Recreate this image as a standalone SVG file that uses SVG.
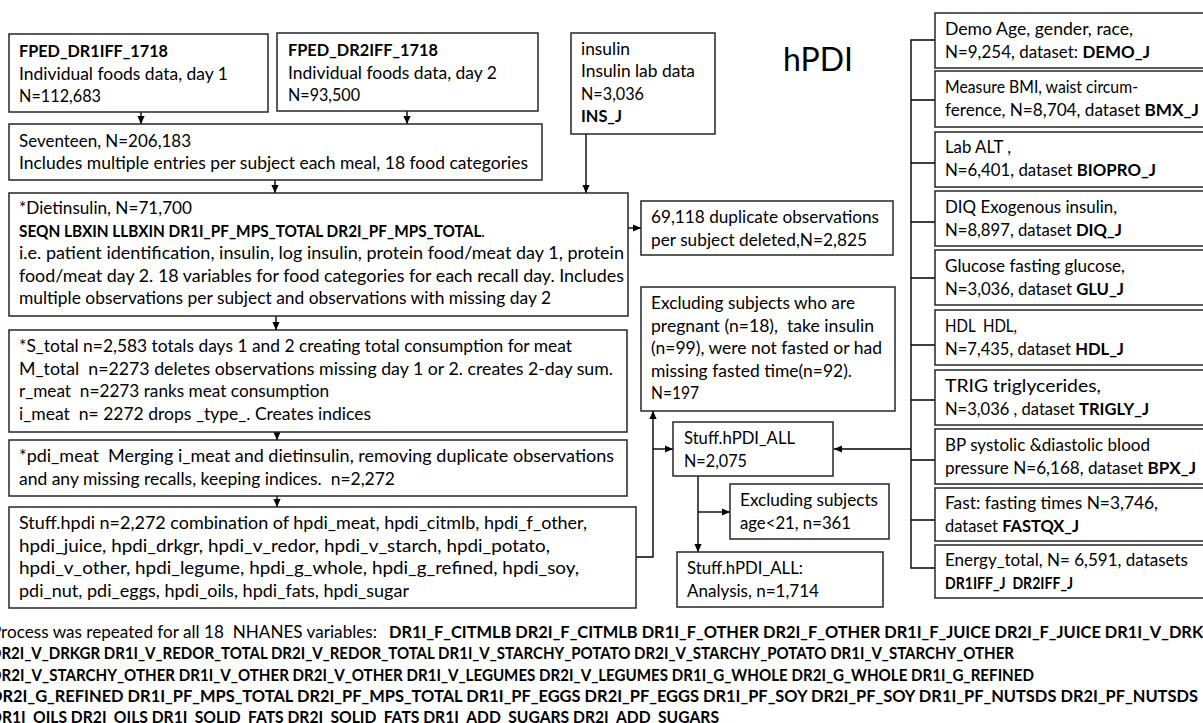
<svg xmlns="http://www.w3.org/2000/svg" width="1203" height="723" viewBox="0 0 1203 723">
<style>
text{font-family:Lato,"Liberation Sans",sans-serif;font-size:17.5px;fill:#000;white-space:pre}
.b{font-weight:bold}
.t{font-size:32px}
.box{fill:#fff;stroke:#262626;stroke-width:1.5}
.c{fill:none;stroke:#000;stroke-width:1.4}
</style>
<defs>
<marker id="a" viewBox="0 0 10 10" refX="10" refY="5" markerWidth="8" markerHeight="8" orient="auto" markerUnits="userSpaceOnUse"><path d="M0,0.5L10,5L0,9.5z" fill="#000"/></marker>
</defs>
<g id="connectors">
<path class="c" d="M141,112V124" marker-end="url(#a)"/>
<path class="c" d="M407,111V124" marker-end="url(#a)"/>
<path class="c" d="M275,180V193" marker-end="url(#a)"/>
<path class="c" d="M586,134V193" marker-end="url(#a)"/>
<path class="c" d="M628,228H641" marker-end="url(#a)"/>
<path class="c" d="M276,316V330" marker-end="url(#a)"/>
<path class="c" d="M277,432V440" marker-end="url(#a)"/>
<path class="c" d="M277,496V507" marker-end="url(#a)"/>
<path class="c" d="M636,557H653V411" marker-end="url(#a)"/>
<path class="c" d="M653,449H673" marker-end="url(#a)"/>
<path class="c" d="M698,476V552" marker-end="url(#a)"/>
<path class="c" d="M698,512H730" marker-end="url(#a)"/>
<path class="c" d="M935,40H911V568H935M911,100H935M911,163H935M911,222H935M911,278H935M911,345H935M911,400H935M911,460H935M911,520H935"/>
<path class="c" d="M911,449H834" marker-end="url(#a)"/>
</g>
<g id="fped1"><rect class="box" x="9" y="34" width="259" height="78"/>
<text class="b" x="19" y="57" textLength="149" lengthAdjust="spacingAndGlyphs">FPED_DR1IFF_1718</text>
<text x="19" y="80" textLength="209" lengthAdjust="spacingAndGlyphs">Individual foods data, day 1</text>
<text x="19" y="102" textLength="82" lengthAdjust="spacingAndGlyphs">N=112,683</text></g>
<g id="fped2"><rect class="box" x="277" y="33" width="261" height="78"/>
<text class="b" x="288" y="56" textLength="150" lengthAdjust="spacingAndGlyphs">FPED_DR2IFF_1718</text>
<text x="288" y="79" textLength="209" lengthAdjust="spacingAndGlyphs">Individual foods data, day 2</text>
<text x="288" y="101" textLength="72" lengthAdjust="spacingAndGlyphs">N=93,500</text></g>
<g id="insulin"><rect class="box" x="571" y="33" width="144" height="101"/>
<text x="581" y="55" textLength="49" lengthAdjust="spacingAndGlyphs">insulin</text>
<text x="581" y="77" textLength="114" lengthAdjust="spacingAndGlyphs">Insulin lab data</text>
<text x="581" y="100" textLength="63" lengthAdjust="spacingAndGlyphs">N=3,036</text>
<text class="b" x="581" y="122" textLength="41" lengthAdjust="spacingAndGlyphs">INS_J</text></g>
<g id="title"><text class="t" x="783" y="71">hPDI</text></g>
<g id="seventeen"><rect class="box" x="9" y="124" width="533" height="56"/>
<text x="19" y="147" textLength="172" lengthAdjust="spacingAndGlyphs">Seventeen, N=206,183</text>
<text x="19" y="169" textLength="509" lengthAdjust="spacingAndGlyphs">Includes multiple entries per subject each meal, 18 food categories</text></g>
<g id="dietinsulin"><rect class="box" x="9" y="193" width="619" height="123"/>
<text x="19" y="214" textLength="173" lengthAdjust="spacingAndGlyphs">*Dietinsulin, N=71,700</text>
<text x="19" y="236.5" textLength="466" lengthAdjust="spacingAndGlyphs"><tspan class="b">SEQN LBXIN LLBXIN DR1I_PF_MPS_TOTAL DR2I_PF_MPS_TOTAL</tspan>.</text>
<text x="19" y="259" textLength="605" lengthAdjust="spacingAndGlyphs">i.e. patient identification, insulin, log insulin, protein food/meat day 1, protein</text>
<text x="19" y="281.5" textLength="605" lengthAdjust="spacingAndGlyphs">food/meat day 2. 18 variables for food categories for each recall day. Includes</text>
<text x="19" y="304" textLength="532" lengthAdjust="spacingAndGlyphs">multiple observations per subject and observations with missing day 2</text></g>
<g id="dup"><rect class="box" x="641" y="201" width="252" height="54"/>
<text x="651" y="223" textLength="228" lengthAdjust="spacingAndGlyphs">69,118 duplicate observations</text>
<text x="651" y="245.5" textLength="216" lengthAdjust="spacingAndGlyphs">per subject deleted,N=2,825</text></g>
<g id="stotal"><rect class="box" x="9" y="330" width="618" height="102"/>
<text x="19" y="352" textLength="553" lengthAdjust="spacingAndGlyphs">*S_total n=2,583 totals days 1 and 2 creating total consumption for meat</text>
<text x="19" y="374.5" textLength="594" lengthAdjust="spacingAndGlyphs">M_total  n=2273 deletes observations missing day 1 or 2. creates 2-day sum.</text>
<text x="19" y="397" textLength="310" lengthAdjust="spacingAndGlyphs">r_meat  n=2273 ranks meat consumption</text>
<text x="19" y="419.5" textLength="352" lengthAdjust="spacingAndGlyphs">i_meat  n= 2272 drops _type_. Creates indices</text></g>
<g id="excl"><rect class="box" x="641" y="287" width="254" height="124"/>
<text x="651" y="309" textLength="204" lengthAdjust="spacingAndGlyphs">Excluding subjects who are</text>
<text x="651" y="331.5" textLength="223" lengthAdjust="spacingAndGlyphs">pregnant (n=18),  take insulin</text>
<text x="651" y="354" textLength="231" lengthAdjust="spacingAndGlyphs">(n=99), were not fasted or had</text>
<text x="651" y="376.5" textLength="201" lengthAdjust="spacingAndGlyphs">missing fasted time(n=92).</text>
<text x="651" y="399" textLength="48" lengthAdjust="spacingAndGlyphs">N=197</text></g>
<g id="pdimeat"><rect class="box" x="9" y="440" width="618" height="56"/>
<text x="19" y="462" textLength="595" lengthAdjust="spacingAndGlyphs">*pdi_meat  Merging i_meat and dietinsulin, removing duplicate observations</text>
<text x="19" y="484.5" textLength="376" lengthAdjust="spacingAndGlyphs">and any missing recalls, keeping indices.  n=2,272</text></g>
<g id="stuffhpdi"><rect class="box" x="9" y="507" width="627" height="101"/>
<text x="19" y="529" textLength="568" lengthAdjust="spacingAndGlyphs">Stuff.hpdi n=2,272 combination of hpdi_meat, hpdi_citmlb, hpdi_f_other,</text>
<text x="19" y="551.5" textLength="531" lengthAdjust="spacingAndGlyphs">hpdi_juice, hpdi_drkgr, hpdi_v_redor, hpdi_v_starch, hpdi_potato,</text>
<text x="19" y="574" textLength="560" lengthAdjust="spacingAndGlyphs">hpdi_v_other, hpdi_legume, hpdi_g_whole, hpdi_g_refined, hpdi_soy,</text>
<text x="19" y="596.5" textLength="390" lengthAdjust="spacingAndGlyphs">pdi_nut, pdi_eggs, hpdi_oils, hpdi_fats, hpdi_sugar</text></g>
<g id="hpdiall"><rect class="box" x="673" y="422" width="160" height="54"/>
<text x="684" y="444" textLength="111" lengthAdjust="spacingAndGlyphs">Stuff.hPDI_ALL</text>
<text x="684" y="466.5" textLength="63" lengthAdjust="spacingAndGlyphs">N=2,075</text></g>
<g id="exclage"><rect class="box" x="730" y="484" width="159" height="55"/>
<text x="740" y="506" textLength="138" lengthAdjust="spacingAndGlyphs">Excluding subjects</text>
<text x="740" y="528.5" textLength="111" lengthAdjust="spacingAndGlyphs">age&lt;21, n=361</text></g>
<g id="analysis"><rect class="box" x="677" y="552" width="206" height="55"/>
<text x="687" y="574" textLength="116" lengthAdjust="spacingAndGlyphs">Stuff.hPDI_ALL:</text>
<text x="687" y="596.5" textLength="132" lengthAdjust="spacingAndGlyphs">Analysis, n=1,714</text></g>
<g id="demo"><rect class="box" x="935" y="13" width="272" height="55"/>
<text x="945" y="35" textLength="188" lengthAdjust="spacingAndGlyphs">Demo Age, gender, race,</text>
<text x="945" y="57.5" textLength="205" lengthAdjust="spacingAndGlyphs">N=9,254, dataset: <tspan class="b">DEMO_J</tspan></text></g>
<g id="measure"><rect class="box" x="935" y="71" width="272" height="56"/>
<text x="945" y="93" textLength="193" lengthAdjust="spacingAndGlyphs">Measure BMI, waist circum-</text>
<text x="945" y="115.5" textLength="254" lengthAdjust="spacingAndGlyphs">ference, N=8,704, dataset <tspan class="b">BMX_J</tspan></text></g>
<g id="lab"><rect class="box" x="935" y="132" width="272" height="55"/>
<text x="945" y="153" textLength="66" lengthAdjust="spacingAndGlyphs">Lab ALT ,</text>
<text x="945" y="176" textLength="211" lengthAdjust="spacingAndGlyphs">N=6,401, dataset <tspan class="b">BIOPRO_J</tspan></text></g>
<g id="diq"><rect class="box" x="935" y="191" width="272" height="55"/>
<text x="945" y="213" textLength="172" lengthAdjust="spacingAndGlyphs">DIQ Exogenous insulin,</text>
<text x="945" y="236" textLength="177" lengthAdjust="spacingAndGlyphs">N=8,897, dataset <tspan class="b">DIQ_J</tspan></text></g>
<g id="glu"><rect class="box" x="935" y="250" width="272" height="55"/>
<text x="945" y="272" textLength="180" lengthAdjust="spacingAndGlyphs">Glucose fasting glucose,</text>
<text x="945" y="295" textLength="179" lengthAdjust="spacingAndGlyphs">N=3,036, dataset <tspan class="b">GLU_J</tspan></text></g>
<g id="hdl"><rect class="box" x="935" y="310" width="272" height="55"/>
<text x="945" y="332" textLength="72" lengthAdjust="spacingAndGlyphs">HDL  HDL,</text>
<text x="945" y="355" textLength="179" lengthAdjust="spacingAndGlyphs">N=7,435, dataset <tspan class="b">HDL_J</tspan></text></g>
<g id="trig"><rect class="box" x="935" y="370" width="272" height="55"/>
<text x="945" y="392" textLength="156" lengthAdjust="spacingAndGlyphs">TRIG triglycerides,</text>
<text x="945" y="414.5" textLength="204" lengthAdjust="spacingAndGlyphs">N=3,036 , dataset <tspan class="b">TRIGLY_J</tspan></text></g>
<g id="bp"><rect class="box" x="935" y="429" width="272" height="55"/>
<text x="945" y="451" textLength="205" lengthAdjust="spacingAndGlyphs">BP systolic &amp;diastolic blood</text>
<text x="945" y="473.5" textLength="251" lengthAdjust="spacingAndGlyphs">pressure N=6,168, dataset <tspan class="b">BPX_J</tspan></text></g>
<g id="fast"><rect class="box" x="935" y="488" width="272" height="53"/>
<text x="945" y="509" textLength="213" lengthAdjust="spacingAndGlyphs">Fast: fasting times N=3,746,</text>
<text x="945" y="531.5" textLength="134" lengthAdjust="spacingAndGlyphs">dataset <tspan class="b">FASTQX_J</tspan></text></g>
<g id="energy"><rect class="box" x="935" y="545" width="272" height="53"/>
<text x="945" y="566" textLength="243" lengthAdjust="spacingAndGlyphs">Energy_total, N= 6,591, datasets</text>
<text class="b" x="945" y="588.5" textLength="128" lengthAdjust="spacingAndGlyphs">DR1IFF_J  DR2IFF_J</text></g>
<g id="footnote">
<text x="-9" y="637.5" textLength="386" lengthAdjust="spacingAndGlyphs">Process was repeated for all 18  NHANES variables:</text>
<text class="b" x="389" y="637.5" textLength="836" lengthAdjust="spacingAndGlyphs">DR1I_F_CITMLB DR2I_F_CITMLB DR1I_F_OTHER DR2I_F_OTHER DR1I_F_JUICE DR2I_F_JUICE DR1I_V_DRKGR</text>
<text class="b" x="-10" y="659" textLength="1024" lengthAdjust="spacingAndGlyphs">DR2I_V_DRKGR DR1I_V_REDOR_TOTAL DR2I_V_REDOR_TOTAL DR1I_V_STARCHY_POTATO DR2I_V_STARCHY_POTATO DR1I_V_STARCHY_OTHER</text>
<text class="b" x="-10" y="680.5" textLength="1044" lengthAdjust="spacingAndGlyphs">DR2I_V_STARCHY_OTHER DR1I_V_OTHER DR2I_V_OTHER DR1I_V_LEGUMES DR2I_V_LEGUMES DR1I_G_WHOLE DR2I_G_WHOLE DR1I_G_REFINED</text>
<text class="b" x="-10" y="702" textLength="1208" lengthAdjust="spacingAndGlyphs">DR2I_G_REFINED DR1I_PF_MPS_TOTAL DR2I_PF_MPS_TOTAL DR1I_PF_EGGS DR2I_PF_EGGS DR1I_PF_SOY DR2I_PF_SOY DR1I_PF_NUTSDS DR2I_PF_NUTSDS</text>
<text class="b" x="-10" y="723" textLength="729" lengthAdjust="spacingAndGlyphs">DR1I_OILS DR2I_OILS DR1I_SOLID_FATS DR2I_SOLID_FATS DR1I_ADD_SUGARS DR2I_ADD_SUGARS</text>
</g>
</svg>
